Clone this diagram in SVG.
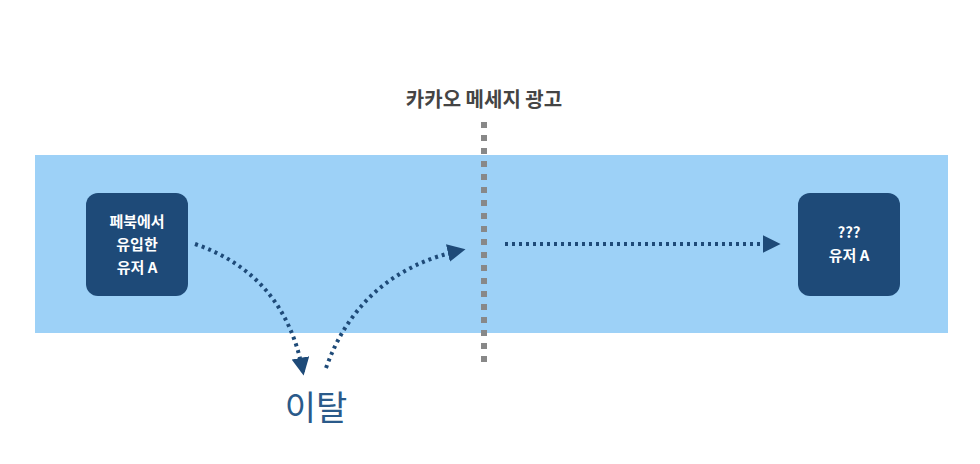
<svg xmlns="http://www.w3.org/2000/svg" width="980" height="464" viewBox="0 0 980 464">
<style>
.node{fill:#1e4a78}
.nt{fill:#fff;font-family:"Noto Sans CJK KR","Noto Sans",sans-serif;font-weight:bold;font-size:15px;text-anchor:middle}
.con{fill:none;stroke:#1e4a78;stroke-width:4;stroke-dasharray:3 4;marker-end:url(#ah)}
</style>
<defs>
<marker id="ah" viewBox="0 0 10 10" refX="8" refY="5" markerWidth="4.5" markerHeight="4.5" orient="auto" markerUnits="strokeWidth">
<path d="M0,0 L10,5 L0,10 z" fill="#1e4a78"/>
</marker>
</defs>
<rect x="35" y="155" width="913" height="178" fill="#9dd1f7"/>
<text x="484" y="107" text-anchor="middle" font-family="'Noto Sans CJK KR',sans-serif" font-weight="bold" font-size="20" fill="#444">카카오 메세지 광고</text>
<line x1="484" y1="122" x2="484" y2="367" stroke="#888" stroke-width="6" stroke-dasharray="6 7"/>
<g id="node-a">
<rect class="node" x="86" y="193" width="102" height="103" rx="12"/>
<text class="nt" x="137" y="227">페북에서</text>
<text class="nt" x="137" y="250">유입한</text>
<text class="nt" x="137" y="273">유저 A</text>
</g>
<g id="node-b">
<rect class="node" x="798" y="193" width="102" height="103" rx="12"/>
<text class="nt" x="849" y="238">???</text>
<text class="nt" x="849" y="261">유저 A</text>
</g>
<g id="connectors">
<path class="con" d="M195,244 Q285,275 303,372"/>
<path class="con" d="M326,368 Q360,272 462,250"/>
<path class="con" d="M505,244 L777,244"/>
</g>
<text id="leave" x="316" y="420" text-anchor="middle" font-family="'Noto Sans CJK KR',sans-serif" font-size="34" fill="#2a5a8a">이탈</text>
</svg>
